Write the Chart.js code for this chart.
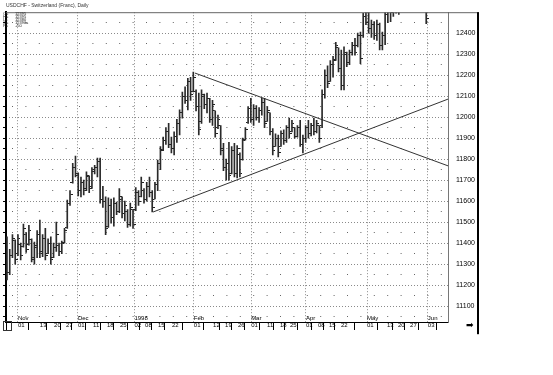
<!DOCTYPE html>
<html>
<head>
<meta charset="utf-8">
<script src="https://cdn.jsdelivr.net/npm/chart.js@4/dist/chart.umd.min.js"></script>
<style>
html,body{margin:0;padding:0;background:#fff;}
#wrap{width:553px;height:375px;position:relative;}
</style>
</head>
<body>
<div id="wrap"><canvas id="c" width="553" height="375"></canvas></div>
<script>
// ---------- data ----------
const chartTitle = 'USDCHF - Switzerland (Franc), Daily';

// one entry per trading day (index 0 = first bar, late Oct 1997)
const highs = [
11430,11370,11440,11415,11440,11400,11490,11450,11485,11420,
11405,11460,11510,11440,11470,11420,11430,11400,11500,11400,
11410,11470,11605,11650,11780,11815,11735,11715,11700,11740,
11720,11760,11770,11805,11805,11670,11620,11615,11610,11615,
11595,11660,11620,11600,11560,11590,11560,11665,11650,11715,
11660,11690,11715,11650,11690,11795,11860,11905,11950,11970,
11905,11930,11990,12035,12120,12145,12185,12190,12215,12130,
12115,12130,12110,12115,12090,12080,12030,12010,11960,11875,
11800,11880,11860,11875,11865,11830,11900,11950,12050,12090,
12060,12055,12045,12090,12090,12050,12020,11945,11920,11915,
11935,11940,11960,11995,11985,11950,11960,11985,11915,11960,
11985,11970,11995,11985,11960,12130,12225,12245,12270,12290,
12357,12330,12320,12335,12310,12320,12357,12375,12400,12405,
12495,12560,12540,12462,12455,12462,12448,12405,12500,12560,
12580,12600,12620,12630,12650,12700,12720,12700,12680,12700,
12660,12650,12640,12600];
const lows = [
11225,11250,11330,11300,11340,11320,11380,11355,11390,11310,
11300,11330,11330,11335,11320,11350,11300,11330,11360,11340,
11350,11400,11470,11580,11685,11715,11625,11620,11630,11650,
11640,11660,11730,11715,11590,11570,11440,11475,11495,11480,
11535,11545,11520,11505,11475,11480,11470,11555,11580,11620,
11590,11600,11620,11548,11610,11650,11750,11840,11870,11855,
11830,11820,11880,11915,11995,12065,12035,12080,12120,12030,
11915,11970,12040,12020,11975,11960,11905,11945,11820,11745,
11700,11700,11730,11715,11710,11715,11795,11890,11970,11975,
11960,11985,11975,12010,11950,11980,11915,11820,11860,11810,
11860,11870,11880,11900,11930,11900,11905,11860,11830,11880,
11900,11910,11915,11925,11880,11950,12090,12140,12170,12190,
12270,12215,12130,12130,12240,12250,12295,12295,12335,12255,
12380,12440,12400,12380,12370,12365,12320,12320,12345,12450,
12455,12480,12495,12490,12540,12560,12600,12580,12560,12580,
12540,12530,12520,12445];
const opens = [
11400,11260,11340,11410,11350,11395,11385,11440,11395,11415,
11320,11380,11440,11360,11420,11350,11400,11330,11380,11390,
11360,11405,11475,11590,11690,11760,11720,11650,11690,11660,
11715,11670,11740,11760,11790,11610,11600,11480,11580,11520,
11590,11550,11610,11540,11550,11490,11560,11560,11640,11620,
11650,11610,11670,11640,11610,11680,11780,11845,11890,11930,
11870,11850,11910,11970,12020,12100,12080,12170,12120,12120,
12050,11980,12100,12060,12090,11990,12030,11950,11960,11850,
11760,11780,11730,11840,11730,11820,11800,11895,11975,12040,
11990,12040,12000,12030,12070,11980,12020,11930,11860,11900,
11860,11920,11890,11950,11930,11950,11910,11950,11870,11900,
11950,11920,11960,11930,11960,11960,12110,12200,12170,12250,
12275,12330,12230,12150,12300,12260,12310,12340,12340,12390,
12390,12480,12450,12420,12440,12390,12440,12340,12390,12490,
12540,12500,12580,12560,12610,12600,12680,12650,12620,12640,
12600,12580,12620,12550];
const closes = [
11260,11340,11420,11320,11420,11340,11470,11370,11460,11330,
11390,11440,11350,11420,11340,11400,11320,11380,11440,11360,
11400,11460,11590,11630,11760,11730,11650,11690,11650,11720,
11660,11750,11760,11790,11610,11600,11470,11580,11520,11590,
11550,11620,11540,11580,11490,11570,11490,11640,11600,11690,
11610,11670,11640,11570,11680,11780,11840,11890,11930,11870,
11850,11910,11970,12020,12100,12080,12170,12110,12190,12050,
11940,12110,12060,12090,11990,12060,11920,11990,11840,11760,
11780,11720,11840,11730,11850,11730,11890,11940,12040,11990,
12040,12000,12030,12070,11970,12030,11930,11840,11900,11830,
11920,11890,11950,11920,11970,11910,11950,11870,11900,11950,
11920,11960,11930,11970,11900,12110,12200,12160,12250,12270,
12340,12230,12150,12310,12260,12310,12340,12310,12390,12280,
12480,12450,12420,12440,12390,12440,12340,12390,12490,12540,
12500,12580,12560,12610,12600,12680,12650,12620,12640,12600,
12580,12620,12550,12470];

// x-axis labels (positions in trading-day units)
const tickDays = [4.0,12.0,17.2,21.5,25.9,31.4,36.5,41.2,46.5,50.4,55.1,60.2,68.2,75.2,79.6,84.3,
                  89.1,94.9,99.6,103.3,109.1,113.5,117.5,121.9,131.4,138.7,142.7,147.1,153.6];
const tickDayLabels = ['01','13','20','27','01','11','18','25','02','08','15','22','01','12','19','26',
                       '01','11','18','25','01','08','15','22','01','13','20','27','03'];
const monthDays = [4.0,25.9,46.5,68.2,89.1,109.1,131.4,153.6];
const monthLabels = ['Nov','Dec','1998','Feb','Mar','Apr','May','Jun'];

// y-axis
const priceTicks = [11100,11200,11300,11400,11500,11600,11700,11800,11900,12000,12100,12200,12300,12400];
const halfTicks  = [11050,11150,11250,11350,11450,11550,11650,11750,11850,11950,12050,12150,12250,12350,12450];

// trend lines (triangle)
const trendUpper = [{x:68.6, y:12210}, {x:160.95, y:11768}];
const trendLower = [{x:53.3, y:11548}, {x:160.95, y:12086}];

// quote box
const quoteLabels = ['O=','H=','L=','C=','P='];
const quoteValues = ['12395','12395','12380','12390a','+50'];

// ---------- chart ----------
const FONT = '"Liberation Sans", Arial, sans-serif';
const X_MIN = -0.36, X_MAX = 160.95, Y_MIN = 11024, Y_MAX = 12500;

function tickImg(left){
  const c = document.createElement('canvas');
  c.width = 5; c.height = 1;
  const g = c.getContext('2d');
  g.fillStyle = '#222';
  g.fillRect(left ? 0 : 3, 0, 2, 1);
  return c;
}
const openImg = tickImg(true), closeImg = tickImg(false);

const frame = {
  id: 'frame',
  afterDraw(chart){
    const g = chart.ctx, a = chart.chartArea;
    g.save();
    g.strokeStyle = '#666'; g.lineWidth = 1;
    g.beginPath(); g.moveTo(a.left, a.top + 0.5); g.lineTo(479, a.top + 0.5); g.stroke();
    g.fillStyle = '#000';
    g.fillRect(477, a.top, 2, 322);
    g.strokeStyle = '#333';
    g.strokeRect(3.5, a.bottom - 0.5, 8, 9);
    g.font = '9px "DejaVu Sans"'; g.textBaseline = 'middle'; g.textAlign = 'left';
    g.fillText('\u27A1', 466, 326);
    g.font = '4px ' + FONT; g.fillStyle = '#222';
    for (let i = 0; i < quoteLabels.length; i++){
      g.fillText(quoteLabels[i], 3, 14 + i * 3);
      g.fillText(quoteValues[i], 15, 14 + i * 3);
    }
    g.restore();
  }
};

new Chart(document.getElementById('c'), {
  data: {
    datasets: [
      { type:'bar', label:'High-Low', data: highs.map((h,i)=>({x:i, y:[lows[i], h]})),
        backgroundColor:'#2a2a2a', borderWidth:0, barThickness:1, grouped:false, clip:0,
        xAxisID:'x', yAxisID:'y' },
      { type:'scatter', label:'Open', data: opens.map((o,i)=>({x:i, y:o})),
        pointStyle: openImg, pointRadius:2, clip:0, xAxisID:'x', yAxisID:'y' },
      { type:'scatter', label:'Close', data: closes.map((c,i)=>({x:i, y:c})),
        pointStyle: closeImg, pointRadius:2, clip:0, xAxisID:'x', yAxisID:'y' },
      { type:'line', label:'Upper trend', data: trendUpper, borderColor:'#333', borderWidth:1,
        pointRadius:0, clip:0, xAxisID:'x', yAxisID:'y' },
      { type:'line', label:'Lower trend', data: trendLower, borderColor:'#333', borderWidth:1,
        pointRadius:0, clip:0, xAxisID:'x', yAxisID:'y' }
    ]
  },
  options: {
    responsive:false, animation:false, events:[],
    layout:{ padding:0 },
    plugins:{
      legend:{ display:false },
      tooltip:{ enabled:false },
      title:{ display:true, text: chartTitle, align:'start', fullSize:false, color:'#333',
              font:{ size:5, family:FONT, weight:'normal' }, padding:{ top:2, bottom:4 } }
    },
    scales:{
      xm:{ type:'linear', position:'bottom', weight:-1, min:X_MIN, max:X_MAX, offset:false,
          afterBuildTicks: s => { s.ticks = monthDays.map(v => ({value:v})); },
          afterFit: s => { s.height = 0; },
          ticks:{ autoSkip:false, maxRotation:0, minRotation:0, align:'start', mirror:true, padding:0,
                  color:'#000', font:{ size:6, family:FONT, lineHeight:1.1 },
                  callback: (v, i) => monthLabels[i] },
          grid:{ drawOnChartArea:true, drawTicks:false, color:'#8a8a8a', lineWidth:1 },
          border:{ display:false, dash:[1,2] } },
      x:{ type:'linear', position:'bottom', weight:0, min:X_MIN, max:X_MAX, offset:false,
          afterBuildTicks: s => { s.ticks = tickDays.map(v => ({value:v})); },
          afterFit: s => { s.height = 53; },
          ticks:{ autoSkip:false, maxRotation:0, minRotation:0, align:'start', padding:-8.3,
                  color:'#000', font:{ size:6, family:FONT, lineHeight:1.1 },
                  callback: (v, i) => tickDayLabels[i] },
          grid:{ drawOnChartArea:false, drawTicks:true, tickLength:8, tickColor:'#000', lineWidth:1 },
          border:{ display:true, color:'#000', width:1 } },
      y:{ type:'linear', position:'right', min:Y_MIN, max:Y_MAX,
          afterBuildTicks: s => { s.ticks = priceTicks.map(v => ({value:v})); },
          afterFit: s => { s.width = 105; },
          ticks:{ padding:8, color:'#000', font:{ size:7, family:FONT }, callback: v => String(v) },
          grid:{ color:'#8a8a8a', lineWidth:1, drawTicks:false },
          border:{ display:true, color:'#777', width:1, dash:[1,2] } },
      yh:{ type:'linear', position:'right', min:Y_MIN, max:Y_MAX,
          afterBuildTicks: s => { s.ticks = halfTicks.map(v => ({value:v})); },
          afterFit: s => { s.width = 0; },
          ticks:{ display:false },
          grid:{ color:'#666', lineWidth:1, drawTicks:false },
          border:{ display:false, dash:[1,12.4], dashOffset:7.4 } },
      yl:{ type:'linear', position:'left', min:Y_MIN, max:Y_MAX,
          afterBuildTicks: s => { s.ticks = priceTicks.concat(halfTicks).sort((a,b)=>a-b).map(v => ({value:v})); },
          afterFit: s => { s.width = 6; },
          ticks:{ display:false },
          grid:{ drawOnChartArea:false, drawTicks:true, tickLength:3, tickColor:'#000', tickWidth:1 },
          border:{ display:true, color:'#000', width:2 } }
    }
  },
  plugins:[frame]
});
</script>
</body>
</html>
